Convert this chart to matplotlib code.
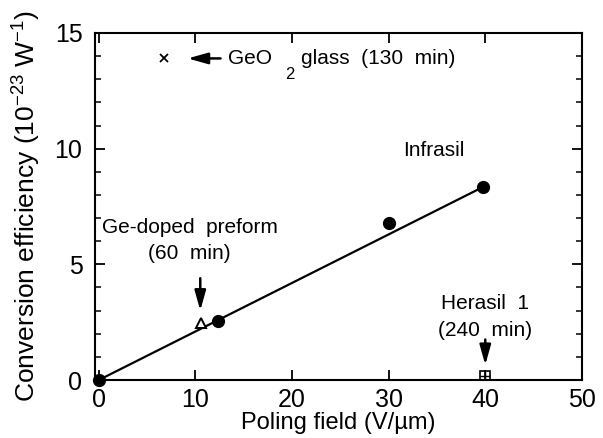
#!/usr/bin/env python3
"""Conversion efficiency vs poling field for several glass samples."""
import matplotlib
matplotlib.use('Agg')
import matplotlib.pyplot as plt
from matplotlib.ticker import MultipleLocator

plt.rcParams['font.family'] = ['Liberation Sans', 'DejaVu Sans']
plt.rcParams['mathtext.fontset'] = 'custom'
plt.rcParams['mathtext.rm'] = 'Liberation Sans'
plt.rcParams['mathtext.it'] = 'Liberation Sans:italic'
plt.rcParams['mathtext.default'] = 'regular'

# Infrasil (filled circles)
infrasil_x = [0, 12.3, 30, 39.8]
infrasil_y = [0, 2.55, 6.8, 8.35]

# linear fit through the Infrasil data
fit_x = [0, 39.8]
fit_y = [0, 8.35]

# other samples
preform_x, preform_y = [10.6], [2.45]     # Ge-doped preform, open triangle
herasil_x, herasil_y = [40], [0.17]       # Herasil 1, boxed cross
geo2_x, geo2_y = [6.7], [13.9]            # GeO2 glass, cross

fig = plt.figure(figsize=(6.03, 4.38), dpi=100)
ax = fig.add_axes([0.1575, 0.1324, 0.8075, 0.7923])

ax.plot(fit_x, fit_y, color='black', lw=1.6, zorder=2)
ax.plot(infrasil_x, infrasil_y, 'o', color='black', ms=8.5, zorder=3, clip_on=False)
ax.plot(preform_x, preform_y, '^', mfc='white', mec='black', mew=1.4, ms=7.5, zorder=3)
ax.plot(herasil_x, herasil_y, 's', mfc='none', mec='black', mew=1.2, ms=7, zorder=3)
ax.plot(herasil_x, herasil_y, '+', color='black', mew=1.0, ms=7, zorder=3)
ax.plot(geo2_x, geo2_y, 'x', color='black', mew=1.3, ms=6, zorder=3)

arrow = dict(arrowstyle='-|>,head_length=1.0,head_width=0.28', color='black', lw=1.8,
             mutation_scale=12, shrinkA=0, shrinkB=0)
fs = 15

# GeO2 glass label
ax.annotate('', xy=(9.2, 13.9), xytext=(12.6, 13.9), arrowprops=arrow)
ax.text(13.4, 13.9, 'GeO', fontsize=fs, va='center', ha='left')
ax.text(19.3, 13.2, '2', fontsize=12, va='center', ha='left')
ax.text(20.9, 13.9, 'glass  (130  min)', fontsize=fs, va='center', ha='left')

# Ge-doped preform
ax.text(9.4, 6.6, 'Ge-doped  preform', fontsize=fs, ha='center', va='center')
ax.text(9.4, 5.45, '(60  min)', fontsize=fs, ha='center', va='center')
ax.annotate('', xy=(10.5, 3.0), xytext=(10.5, 4.4), arrowprops=arrow)

# Infrasil
ax.text(34.7, 9.9, 'Infrasil', fontsize=fs, ha='center', va='center')

# Herasil 1
ax.text(40, 3.3, 'Herasil  1', fontsize=fs, ha='center', va='center')
ax.text(40, 2.15, '(240  min)', fontsize=fs, ha='center', va='center')
ax.annotate('', xy=(40, 0.65), xytext=(40, 1.75), arrowprops=arrow)

ax.set_xlim(-0.4, 49.8)
ax.set_ylim(0, 15)
ax.set_xticks([0, 10, 20, 30, 40, 50])
ax.set_yticks([0, 5, 10, 15])
ax.yaxis.set_minor_locator(MultipleLocator(1))

for s in ax.spines.values():
    s.set_linewidth(1.5)
ax.tick_params(axis='both', which='major', direction='in', top=True, right=True,
               length=7, width=1.3, labelsize=18)
ax.tick_params(axis='x', which='major', pad=6)
ax.tick_params(axis='y', which='major', pad=9)
ax.tick_params(axis='y', which='minor', direction='in', right=True, length=4, width=1.1)

ax.set_xlabel('Poling field (V/\u00b5m)', fontsize=17, labelpad=0)
ax.set_ylabel('Conversion efficiency (10$^{-23}$ W$^{-1}$)', fontsize=19, labelpad=8)

fig.savefig('out.png', dpi=100)
